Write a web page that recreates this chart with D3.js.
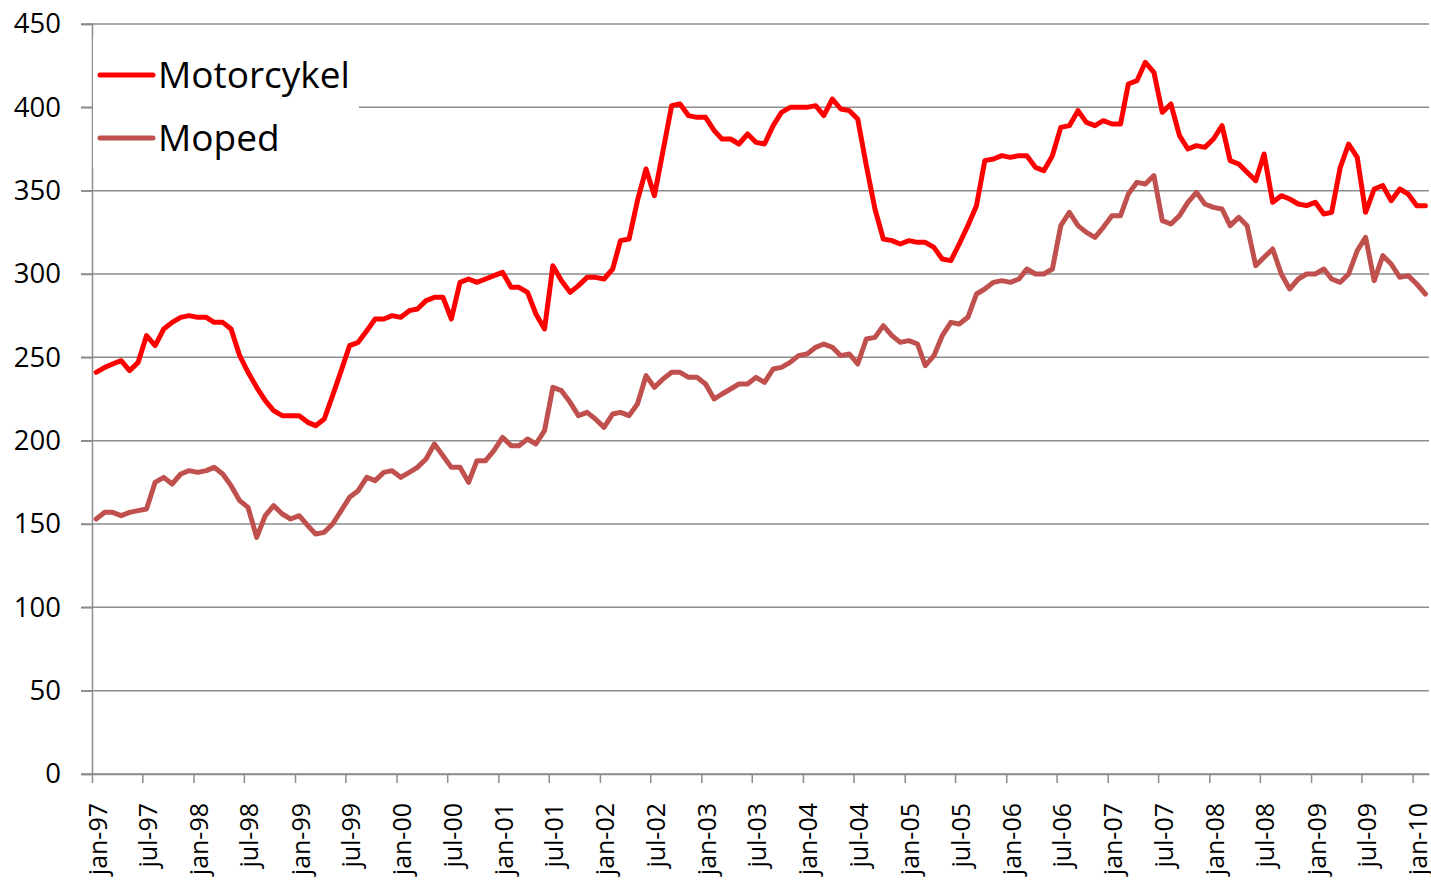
<!DOCTYPE html>
<html lang="da">
<head>
    <meta charset="UTF-8">
    <title>Motorcykel og Moped</title>
    <script src="https://d3js.org/d3.v7.min.js"></script>
    <style>
        body { margin: 0; background: #fff; }
        svg { display: block; font-family: "Open Sans", sans-serif; }
        .grid line { stroke: #8c8c8c; stroke-width: 1.5px; }
        .axis path, .axis line { stroke: #8c8c8c; stroke-width: 1.5px; }
        .series { fill: none; stroke-width: 5px; stroke-linejoin: round; stroke-linecap: round; }
    </style>
</head>
<body>
<svg width="1431" height="880"></svg>
<script>
    // månedlige værdier, jan-97 .. feb-10
    const motorcykel = [
        241,244,246,248,242,247,263,257,267,271,274,275,274,274,271,271,267,251,241,232,224,218,215,215,215,211,209,213,227,242,257,
        259,266,273,273,275,274,278,279,284,286,286,273,295,297,295,297,299,301,292,292,289,276,267,305,296,289,293,298,298,297,303,
        320,321,344,363,347,374,401,402,395,394,394,386,381,381,378,384,379,378,389,397,400,400,400,401,395,405,399,398,393,365,339,321,
        320,318,320,319,319,316,309,308,318,329,341,368,369,371,370,371,371,364,362,371,388,389,398,391,389,392,390,390,414,416,427,421,
        397,402,383,375,377,376,381,389,368,366,361,356,372,343,347,345,342,341,343,336,337,364,378,370,337,351,353,344,351,348,341,341
    ];
    const moped = [
        153,157,157,155,157,158,159,175,178,174,180,182,181,182,184,180,173,164,160,142,155,161,156,153,155,149,144,145,150,158,166,
        170,178,176,181,182,178,181,184,189,198,191,184,184,175,188,188,194,202,197,197,201,198,206,232,230,223,215,217,213,208,216,
        217,215,222,239,232,237,241,241,238,238,234,225,228,231,234,234,238,235,243,244,247,251,252,256,258,256,251,252,246,261,262,269,
        263,259,260,258,245,251,263,271,270,274,288,291,295,296,295,297,303,300,300,303,329,337,329,325,322,328,335,335,348,355,354,359,
        332,330,335,343,349,342,340,339,329,334,329,305,310,315,300,291,297,300,300,303,297,295,300,314,322,296,311,306,298,299,294,288
    ];
    const tickLabels = [
        "jan-97","jul-97","jan-98","jul-98","jan-99","jul-99","jan-00","jul-00","jan-01","jul-01",
        "jan-02","jul-02","jan-03","jul-03","jan-04","jul-04","jan-05","jul-05","jan-06","jul-06",
        "jan-07","jul-07","jan-08","jul-08","jan-09","jul-09","jan-10"
    ];
    const yTicks = [0, 50, 100, 150, 200, 250, 300, 350, 400, 450];
    const seriesNames = ["Motorcykel", "Moped"];
    const colors = ["#ff0000", "#c0504d"];

    const svg = d3.select("svg");
    const start = new Date(1997, 0, 1);
    const end = new Date(2010, 2, 1);
    const months = d3.timeMonth.range(start, end);

    const x = d3.scaleTime().domain([start, end]).range([92, 1429]);
    const y = d3.scaleLinear().domain([0, 450]).range([774, 24]);

    // gitterlinjer
    svg.append("g").attr("class", "grid")
        .selectAll("line").data(yTicks).enter().append("line")
        .attr("x1", 81).attr("x2", 1429)
        .attr("y1", d => y(d)).attr("y2", d => y(d));

    // y-akse
    const yAxis = svg.append("g").attr("class", "axis")
        .attr("transform", "translate(92,0)")
        .call(d3.axisLeft(y).tickValues(yTicks).tickSize(11).tickPadding(20));
    yAxis.selectAll("text").attr("font-size", 27.5).attr("fill", "#000")
        .attr("font-family", "Open Sans");

    // x-akse
    const tickDates = d3.timeMonth.every(6).range(start, end);
    const xAxis = svg.append("g").attr("class", "axis")
        .attr("transform", "translate(0,774)")
        .call(d3.axisBottom(x).tickValues(tickDates).tickSize(9).tickSizeOuter(0)
            .tickFormat((d, i) => tickLabels[i]));
    xAxis.selectAll("text")
        .attr("font-size", 25).attr("fill", "#000").attr("font-family", "Open Sans")
        .attr("text-anchor", "end")
        .attr("transform", "translate(0,29) rotate(-90)")
        .attr("x", 0).attr("y", 14).attr("dy", 0);

    // linjer
    const line = d3.line()
        .x((d, i) => x(d3.timeDay.offset(months[i], 15)))
        .y(d => y(d));

    [motorcykel, moped].forEach((s, k) => {
        svg.append("path").attr("class", "series")
            .attr("stroke", colors[k])
            .attr("d", line(s));
    });

    // forklaring
    const legend = svg.append("g");
    legend.append("rect")
        .attr("x", 93).attr("y", 38).attr("width", 266).attr("height", 130)
        .attr("fill", "#fff");
    const legendY = [75, 138];
    seriesNames.forEach((name, k) => {
        legend.append("line")
            .attr("x1", 100).attr("x2", 153)
            .attr("y1", legendY[k]).attr("y2", legendY[k])
            .attr("stroke", colors[k]).attr("stroke-width", 5)
            .attr("stroke-linecap", "round");
        legend.append("text")
            .attr("x", 158).attr("y", legendY[k] + 13)
            .attr("font-size", 37).attr("fill", "#000")
            .text(name);
    });
</script>
</body>
</html>
